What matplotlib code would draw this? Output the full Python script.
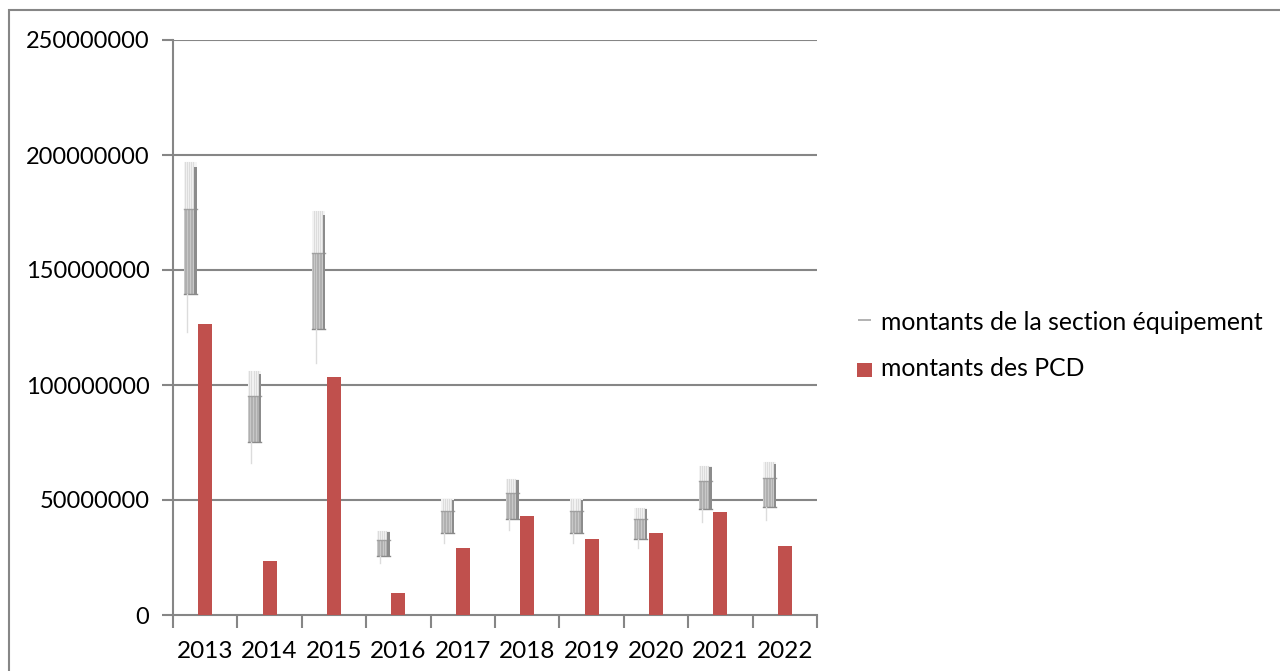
import matplotlib
matplotlib.use("Agg")
import matplotlib.pyplot as plt
from matplotlib.patches import Rectangle
import numpy as np

years = ["2013", "2014", "2015", "2016", "2017", "2018", "2019", "2020", "2021", "2022"]
equipement = [195.0e6, 105.0e6, 174.0e6, 36.0e6, 50.0e6, 58.5e6, 50.0e6, 46.0e6, 64.2e6, 65.7e6]
pcd = [126.5e6, 23.6e6, 103.5e6, 9.7e6, 29.1e6, 43.0e6, 33.0e6, 35.5e6, 44.6e6, 30.0e6]
y_ticks = [0, 50000000, 100000000, 150000000, 200000000, 250000000]

FONT = ["Lato", "DejaVu Sans"]
GRID = "#868686"
RED = "#c0504d"

W, H = 1280, 671
fig = plt.figure(figsize=(W / 100, H / 100), dpi=100)
ax = fig.add_axes([173 / W, (H - 615) / H, (817 - 173) / W, (615 - 40) / H])

n = len(years)
x = np.arange(n)
ax.set_xlim(-0.5, n - 0.5)
ax.set_ylim(0, 250e6)

# gridlines
for t in y_ticks[1:]:
    ax.axhline(t, color=GRID, lw=1.5, zorder=1)

# PCD bars
ax.bar(x, pcd, width=0.22, color=RED, zorder=3)

# textured equipment bars (rendered like the reference's faded pattern)
gw = 0.2
goff = -0.235
for xi, v in zip(x, equipement):
    left = xi + goff - gw / 2
    # faint upper part
    ax.add_patch(Rectangle((left, 0.905 * v), gw, 0.105 * v, facecolor="#f4f4f4",
                           edgecolor="none", zorder=2))
    for fx in np.linspace(left + 0.02, left + gw - 0.05, 5):
        ax.plot([fx, fx], [0.905 * v, 1.01 * v], color="#dcdcdc", lw=0.8, zorder=2)
    # main box
    ax.add_patch(Rectangle((left, 0.715 * v), gw, 0.19 * v, facecolor="#c8c8c8",
                           edgecolor="none", zorder=2))
    for fx in np.linspace(left + 0.015, left + gw - 0.04, 7):
        ax.plot([fx, fx], [0.715 * v, 0.905 * v], color="#b0b0b0", lw=0.7, zorder=2)
    ax.plot([left, left + gw], [0.905 * v, 0.905 * v], color="#a0a0a0", lw=1.0, zorder=2)
    ax.plot([left, left + gw], [0.715 * v, 0.715 * v], color="#8a8a8a", lw=1.0, zorder=2)
    # dark strip on the right edge
    ax.add_patch(Rectangle((left + gw - 0.035, 0.715 * v), 0.035, 0.285 * v,
                           facecolor="#8c8c8c", edgecolor="none", zorder=2))
    # faint lower whisker
    ax.plot([left + 0.05, left + 0.05], [0.63 * v, 0.715 * v], color="#dcdcdc", lw=1.0, zorder=2)

# spines
for s in ["top", "right"]:
    ax.spines[s].set_visible(False)
ax.spines["left"].set_color(GRID)
ax.spines["bottom"].set_color(GRID)
ax.spines["left"].set_linewidth(1.5)
ax.spines["bottom"].set_linewidth(1.5)

ax.set_yticks(y_ticks)
ax.set_yticklabels([str(t) for t in y_ticks], fontfamily=FONT, fontsize=17)
ax.tick_params(axis="y", length=8, width=1.5, color=GRID, pad=9)

ax.set_xticks(np.arange(n + 1) - 0.5, minor=False)
ax.set_xticklabels([])
ax.set_xticks(x, minor=True)
ax.set_xticklabels(years, minor=True, fontfamily=FONT, fontsize=17.5)
ax.tick_params(axis="x", which="major", length=9, width=1.5, color=GRID)
ax.tick_params(axis="x", which="minor", length=0, pad=19)

# legend (manual)
fig.patches.append(Rectangle((858 / W, (H - 321) / H), 13 / W, 2 / H, transform=fig.transFigure,
                             facecolor="#b4b4b4", edgecolor="none"))
fig.text(881 / W, (H - 322) / H, "montants de la section équipement", fontfamily=FONT,
         fontsize=17.8, va="center", ha="left")
fig.patches.append(Rectangle((857 / W, (H - 377) / H), 15 / W, 14 / H, transform=fig.transFigure,
                             facecolor=RED, edgecolor="none"))
fig.text(881 / W, (H - 369) / H, "montants des PCD", fontfamily=FONT,
         fontsize=17.8, va="center", ha="left")

# outer frame
fig.patches.append(Rectangle((9 / W, -0.1), 1.2, (H - 10) / H + 0.1, transform=fig.transFigure,
                             facecolor="none", edgecolor=GRID, lw=1.5))

fig.savefig("out.png", dpi=100)
